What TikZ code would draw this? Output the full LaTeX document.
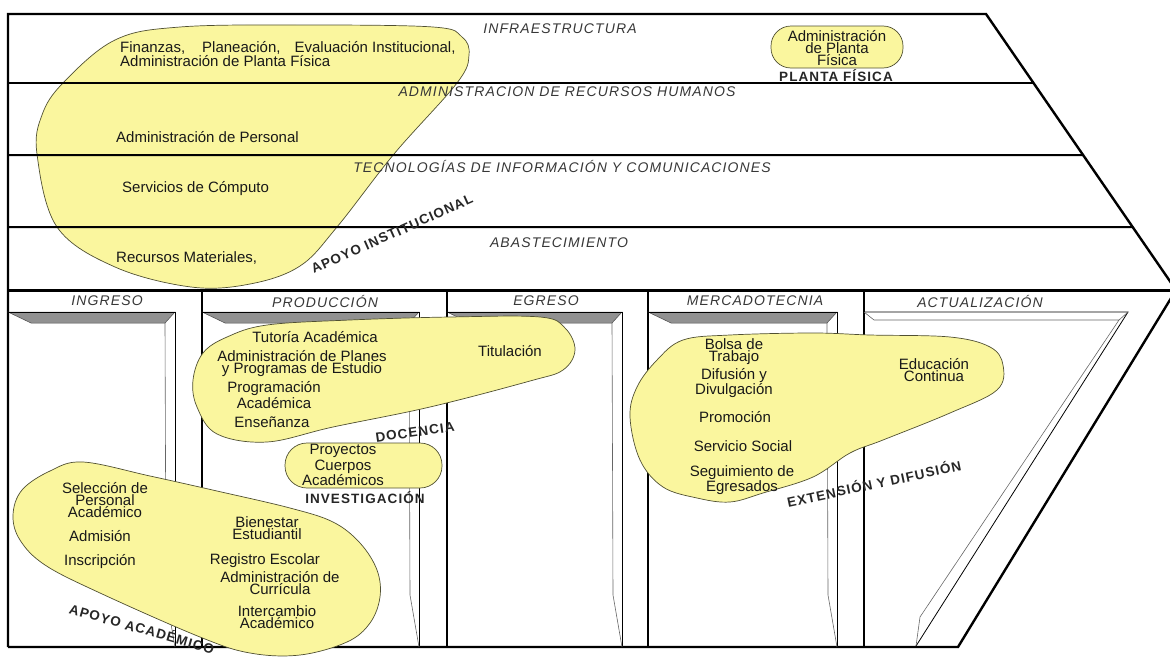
\documentclass[tikz,border=0pt]{standalone}
\usepackage{fontspec}
\setmainfont{Liberation Sans}
\newfontfamily\spacedfont[LetterSpace=8]{Liberation Sans}
\usetikzlibrary{calc}

\definecolor{blobfill}{RGB}{250,246,158}
\definecolor{blobedge}{RGB}{80,80,50}
\definecolor{bevelgray}{RGB}{145,145,145}
\definecolor{labelgray}{RGB}{55,55,55}

\tikzset{
  blob/.style={fill=blobfill, draw=blobedge, line width=0.7pt},
  item/.style={font=\fontsize{15}{10.5}\selectfont, align=center, inner sep=0pt, text=black!90},
  band/.style={font=\spacedfont\itshape\fontsize{14}{15}\selectfont, text=labelgray, inner sep=0pt},
  group/.style={font=\spacedfont\bfseries\fontsize{13.5}{15}\selectfont, text=black!85, inner sep=0pt},
  frame/.style={line width=2.4pt},
}

\begin{document}
\begin{tikzpicture}[x=1pt, y=-1pt]
\useasboundingbox (0,0) rectangle (1170,656);

% Apoyo institucional (under the band lines)
\draw[blob] plot[smooth cycle, tension=0.6] coordinates {(180,27) (300,25) (433,27) (462,37) (469,55) (457,83) (394,154) (337,227) (300,266) (250,284) (191,287) (115,267) (57,227) (37,154) (42,115) (63,83) (115,40)};

% Outer frame
\coordinate (topL) at (8,14);
\coordinate (topR) at (986,14);
\coordinate (tip) at (1176,290);
\coordinate (botR) at (958,647);
\coordinate (botL) at (8,647);
\draw[frame] (botL) -- (topL) -- (topR) -- (tip) -- (botR) -- (botL);
\draw[line width=2pt] (8,83) -- ($(topR)!0.25!(tip)$);
\draw[line width=2pt] (8,155) -- ($(topR)!0.511!(tip)$);
\draw[line width=2pt] (8,227) -- ($(topR)!0.772!(tip)$);
\draw[line width=3pt] (8,290) -- (tip);

% Columns
\foreach \cx in {202,447,648,864}
  \draw[line width=1.3pt] (\cx,290) -- (\cx,647);

% Doors
\foreach \l/\r in {8/175,202/419,447/622,648/837}{
  \filldraw[fill=bevelgray, draw=black!70, line width=0.5pt] (\l,312) -- (\r,312) -- (\r-10,323) -- (\l+23,323) -- cycle;
  \draw[line width=0.8pt] (\l,312) -- (\r,312) -- (\r,647);
  \draw[black!60, line width=0.6pt] (\r-10,323) -- (\r-9,595) -- (\r,647);
}
\draw[line width=0.8pt] (864,312) -- (1128,312) -- (916,646);
\draw[black!60, line width=0.6pt] (864,312) -- (874,320) -- (1119,320) -- (920,617) -- (916,646);
\draw[black!60, line width=0.6pt] (1128,312) -- (1119,320);

% Groups
\draw[blob, rounded corners=20pt] (771,26) rectangle (903,68);
\draw[blob] plot[smooth cycle, tension=0.6] coordinates {(227,337) (267,325) (350,320) (450,317) (540,317) (565,328) (575,350) (563,370) (530,381) (430,407) (333,427) (267,442) (217,434) (197,407) (193,380) (203,353)};
\draw[blob, rounded corners=22pt] (285,443) rectangle (442,488);
\draw[blob] plot[smooth cycle, tension=0.6] coordinates {(83,462) (150,476) (217,491) (290,508) (333,522) (360,543) (377,570) (380,597) (370,623) (347,642) (300,655) (250,653) (200,637) (100,593) (45,565) (20,540) (13,515) (22,490) (50,471)};
\draw[blob] plot[smooth cycle, tension=0.6] coordinates {(683,340) (730,335) (813,333) (870,335) (950,337) (990,347) (1003,365) (997,390) (950,413) (883,440) (850,453) (813,477) (763,493) (730,502) (697,498) (663,487) (640,460) (630,417) (637,387) (657,360)};

% Band labels
\node[band] (infra) at (560,29) {INFRAESTRUCTURA};
\node[band] (rrhh) at (567,92) {ADMINISTRACION DE RECURSOS HUMANOS};
\node[band] (tic) at (562,166) {TECNOLOGÍAS DE INFORMACIÓN Y COMUNICACIONES};
\node[band] (abast) at (559,243) {ABASTECIMIENTO};

% Column headers
\node[band] (ingreso) at (107,301) {INGRESO};
\node[band] (produccion) at (325,301) {PRODUCCIÓN};
\node[band] (egreso) at (546,301) {EGRESO};
\node[band] (mercado) at (755,301) {MERCADOTECNIA};
\node[band] (actual) at (980,301) {ACTUALIZACIÓN};

% Apoyo institucional
\node[item, align=left, anchor=west] (finanzas) at (120,54) {Finanzas,\hspace{17pt}Planeación,\hspace{14pt}Evaluación Institucional,\\Administración de Planta Física};
\node[item, anchor=west] (personal) at (116,137) {Administración de Personal};
\node[item, anchor=west] (computo) at (122,189) {Servicios de Cómputo};
\node[item, anchor=west] (materiales) at (116,258) {Recursos Materiales,};
\node[group, rotate=24] (apinst) at (392,234) {APOYO INSTITUCIONAL};

% Planta fisica
\node[item] (admfis) at (837,48) {Administración\\de Planta\\Física};
\node[group] (planta) at (836,76) {PLANTA FÍSICA};

% Docencia
\node[item] (tutoria) at (315,337) {Tutoría Académica};
\node[item] (planes) at (302,364) {Administración de Planes\\y Programas de Estudio};
\node[item] (program) at (274,395) {Programación\\Académica};
\node[item] (ensena) at (272,422) {Enseñanza};
\node[item] (titulo) at (510,351) {Titulación};
\node[group, rotate=8] (docencia) at (415,432) {DOCENCIA};

% Investigacion
\node[item] (proyectos) at (343,451) {Proyectos};
\node[item] (cuerpos) at (343,473) {Cuerpos\\Académicos};
\node[group] (investig) at (365,498) {INVESTIGACIÓN};

% Apoyo academico
\node[item] (seleccion) at (105,500) {Selección de\\Personal\\Académico};
\node[item] (admision) at (100,536) {Admisión};
\node[item] (inscrip) at (100,562) {Inscripción};
\node[item] (bienestar) at (267,528) {Bienestar\\Estudiantil};
\node[item] (registro) at (265,561) {Registro Escolar};
\node[item] (curricula) at (280,583) {Administración de\\Currícula};
\node[item] (intercambio) at (277,617) {Intercambio\\Académico};
\node[group, rotate=-16] (apacad) at (142,628) {APOYO ACADÉMICO};

% Extension y difusion
\node[item] (bolsa) at (734,352) {Bolsa de\\Trabajo};
\node[item] (difusion) at (734,383) {Difusión y\\Divulgación};
\node[item] (promocion) at (735,417) {Promoción};
\node[item] (servicio) at (743,446) {Servicio Social};
\node[item] (seguim) at (742,480) {Seguimiento de\\Egresados};
\node[item] (educa) at (934,370) {Educación\\Continua};
\node[group, rotate=12] (extension) at (874,483) {EXTENSIÓN Y DIFUSIÓN};

\end{tikzpicture}
\end{document}
